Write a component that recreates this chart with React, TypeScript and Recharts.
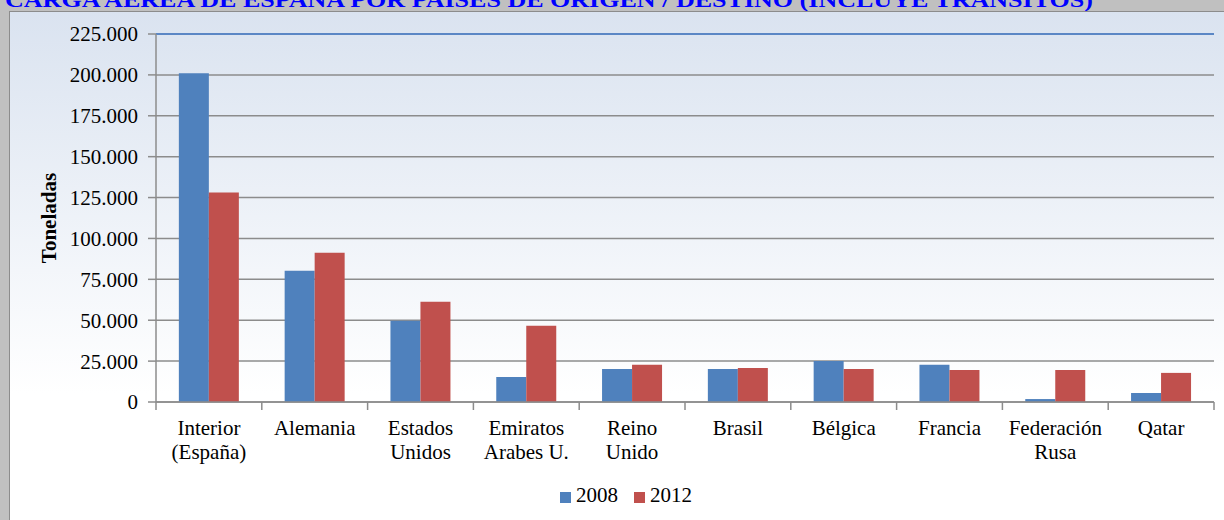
import React from 'react';
import { BarChart, Bar, XAxis, YAxis, CartesianGrid, Legend, ReferenceLine } from 'recharts';

const paises = [
    'Interior\n(España)',
    'Alemania',
    'Estados\nUnidos',
    'Emiratos\nArabes U.',
    'Reino\nUnido',
    'Brasil',
    'Bélgica',
    'Francia',
    'Federación\nRusa',
    'Qatar',
];
const toneladas2008 = [201000, 80300, 49700, 15300, 20200, 20200, 25100, 22700, 1800, 5500];
const toneladas2012 = [128100, 91300, 61300, 46600, 22700, 20800, 20200, 19600, 19600, 17800];
const yTicks = [0, 25000, 50000, 75000, 100000, 125000, 150000, 175000, 200000, 225000];

const data = paises.map((name, i) => ({
    name,
    '2008': toneladas2008[i],
    '2012': toneladas2012[i],
}));

const SERIF = '"Liberation Serif", "Times New Roman", serif';

const miles = (v: number) => String(v).replace(/\B(?=(\d{3})+(?!\d))/g, '.');

const CategoryTick = (props: any) => {
    const { x, y, payload, index } = props;
    const lines = String(payload.value).split('\n');
    const half = payload.offset || 0;
    return (
        <g>
            <line x1={x - half} y1={y} x2={x - half} y2={y + 8} stroke="#8c8c8c" strokeWidth={1.5} />
            {index === paises.length - 1 && (
                <line x1={x + half} y1={y} x2={x + half} y2={y + 8} stroke="#8c8c8c" strokeWidth={1.5} />
            )}
            <text x={x} y={y} textAnchor="middle" fill="#000" fontSize={21} fontFamily={SERIF}>
                {lines.map((l, i) => (
                    <tspan key={i} x={x} dy={i === 0 ? 33 : 24}>{l}</tspan>
                ))}
            </text>
        </g>
    );
};

const YLabel = (props: any) => {
    const { viewBox } = props;
    const cx = viewBox.x + 46;
    const cy = viewBox.y + viewBox.height / 2;
    return (
        <text
            x={cx}
            y={cy}
            transform={`rotate(-90 ${cx} ${cy})`}
            textAnchor="middle"
            fontSize={21}
            fontWeight="bold"
            fontFamily={SERIF}
            fill="#000"
        >
            Toneladas
        </text>
    );
};

const App: React.FC = () => {
    return (
        <div style={{ position: 'absolute', left: 0, top: 0, width: 1224, height: 520, overflow: 'hidden', background: '#c0c0c0' }}>
            <svg width={1224} height={12} style={{ position: 'absolute', left: 0, top: 0 }}>
                <text
                    x={5}
                    y={7}
                    fill="#0000ff"
                    fontSize={22}
                    fontWeight="bold"
                    fontFamily={SERIF}
                    textLength={1088}
                    lengthAdjust="spacingAndGlyphs"
                >
                    CARGA AEREA DE ESPAÑA POR PAISES DE ORIGEN / DESTINO (INCLUYE TRANSITOS)
                </text>
            </svg>
            <div
                style={{
                    position: 'absolute',
                    left: 9,
                    top: 11,
                    width: 1215,
                    height: 509,
                    borderLeft: '1px solid #8c8c8c',
                    borderTop: '1px solid #8c8c8c',
                    background: 'linear-gradient(to bottom, #dae3f0 0%, #ffffff 75%)',
                }}
            >
                <BarChart
                    width={1214}
                    height={508}
                    data={data}
                    barCategoryGap="21.6%"
                    barGap={0}
                    margin={{ top: 22, right: 10, left: 0, bottom: 12 }}
                >
                    <CartesianGrid vertical={false} stroke="#8c8c8c" strokeWidth={1.5} />
                    <XAxis
                        dataKey="name"
                        interval={0}
                        height={81}
                        tickSize={0}
                        tickMargin={0}
                        tickLine={false}
                        axisLine={{ stroke: '#8c8c8c', strokeWidth: 1.5 }}
                        tick={<CategoryTick />}
                    />
                    <YAxis
                        width={146}
                        domain={[0, 225000]}
                        ticks={yTicks}
                        interval={0}
                        tickFormatter={miles}
                        tickSize={8}
                        tickMargin={10}
                        tickLine={{ stroke: '#8c8c8c', strokeWidth: 1.5 }}
                        axisLine={{ stroke: '#8c8c8c', strokeWidth: 1.5 }}
                        tick={{ fill: '#000', fontSize: 21, fontFamily: SERIF }}
                        label={<YLabel />}
                    />
                    <YAxis
                        yAxisId="borde"
                        orientation="right"
                        width={0}
                        domain={[0, 225000]}
                        tick={false}
                        tickLine={false}
                        axisLine={{ stroke: '#5b87c5', strokeWidth: 2 }}
                    />
                    <ReferenceLine y={225000} stroke="#5b87c5" strokeWidth={2} />
                    <Legend
                        verticalAlign="bottom"
                        iconType="square"
                        iconSize={11}
                        wrapperStyle={{
                            fontFamily: SERIF,
                            fontSize: 21,
                            bottom: 12,
                            left: 0,
                            width: 1214,
                            paddingLeft: 34,
                            boxSizing: 'border-box',
                        }}
                        formatter={(value: string) => (
                            <span style={{ color: '#000', marginLeft: 1, marginRight: 6 }}>{value}</span>
                        )}
                    />
                    <Bar dataKey="2008" fill="#4f81bd" isAnimationActive={false} />
                    <Bar dataKey="2012" fill="#c0504d" isAnimationActive={false} />
                </BarChart>
            </div>
        </div>
    );
};

export default App;
